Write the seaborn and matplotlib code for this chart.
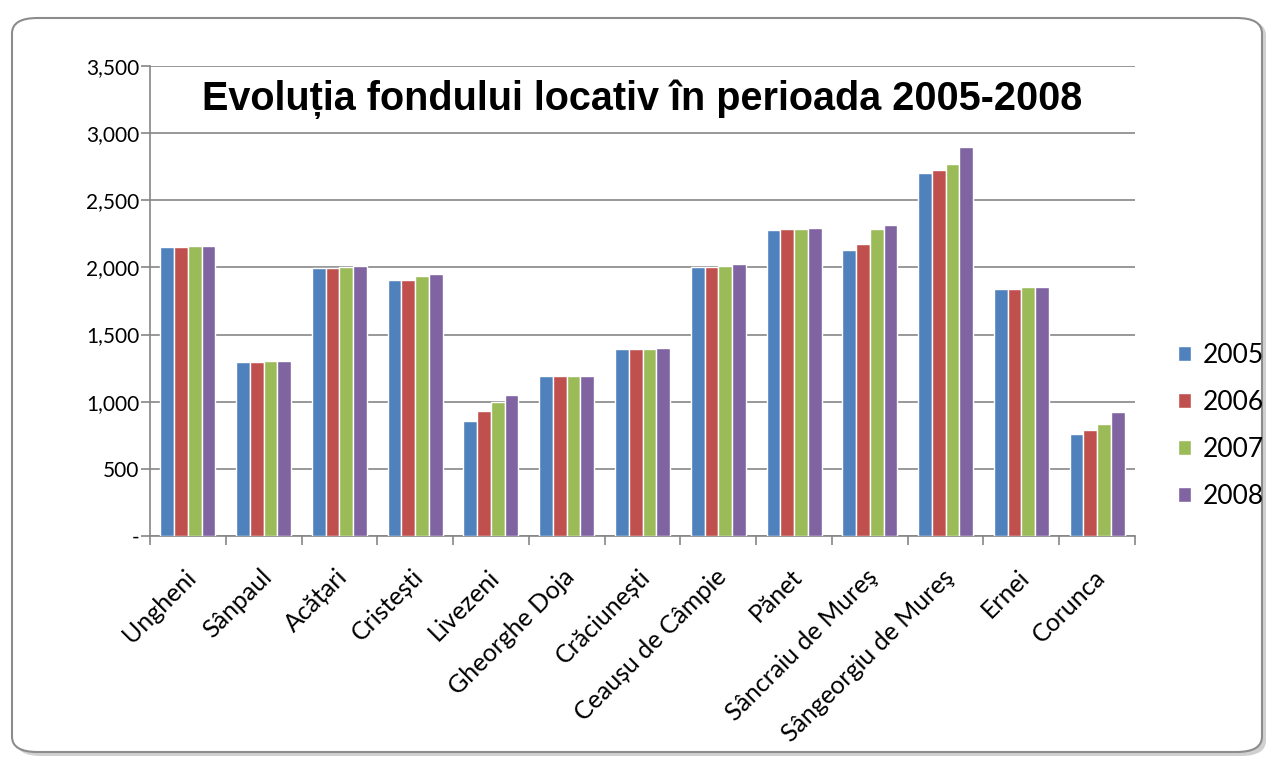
import matplotlib
matplotlib.use("Agg")
import matplotlib.pyplot as plt
import matplotlib.transforms as mtransforms
import seaborn as sns
import pandas as pd
from matplotlib.patches import FancyBboxPatch
from matplotlib.ticker import FuncFormatter, MultipleLocator

categories = ["Ungheni", "Sânpaul", "Acățari", "Cristești", "Livezeni", "Gheorghe Doja",
              "Crăciunești", "Ceaușu de Câmpie", "Pănet", "Sâncraiu de Mureş",
              "Sângeorgiu de Mureş", "Ernei", "Corunca"]
years = ["2005", "2006", "2007", "2008"]
v2005 = [2155, 1295, 1993, 1908, 853, 1190, 1390, 2003, 2281, 2132, 2704, 1841, 756]
v2006 = [2155, 1295, 1993, 1908, 928, 1190, 1390, 2003, 2289, 2177, 2726, 1841, 786]
v2007 = [2160, 1300, 2005, 1938, 1000, 1190, 1390, 2012, 2289, 2289, 2771, 1856, 831]
v2008 = [2162, 1300, 2012, 1953, 1047, 1190, 1398, 2027, 2296, 2319, 2898, 1856, 921]
title = "Evoluția fondului locativ în perioada 2005-2008"
colors = ["#4F81BD", "#C0504D", "#9BBB59", "#8064A2"]

rows = []
for yr, vals in zip(years, [v2005, v2006, v2007, v2008]):
    for c, v in zip(categories, vals):
        rows.append({"cat": c, "year": yr, "value": v})
df = pd.DataFrame(rows)

sns.set_style("white")
plt.rcParams['font.family'] = ['Lato', 'DejaVu Sans']
plt.rcParams['text.color'] = 'black'
plt.rcParams['xtick.color'] = 'black'
plt.rcParams['ytick.color'] = 'black'

fig = plt.figure(figsize=(12.74, 7.71), dpi=100)
fig.patch.set_facecolor("white")

# outer rounded border with shadow
shadow = FancyBboxPatch((16 / 1274, 1 - 756 / 771), 1250 / 1274, 736 / 771,
                        boxstyle="round,pad=0,rounding_size=0.02",
                        transform=fig.transFigure, facecolor="#d0d0d0",
                        edgecolor="none", zorder=-2)
border = FancyBboxPatch((12 / 1274, 1 - 752 / 771), 1250 / 1274, 734 / 771,
                        boxstyle="round,pad=0,rounding_size=0.02",
                        transform=fig.transFigure, facecolor="white",
                        edgecolor="#8c8c8c", linewidth=1.5, zorder=-1)
fig.patches.extend([shadow, border])

ax = fig.add_axes([150 / 1274, 1 - 536 / 771, 985 / 1274, 470 / 771])
ax.set_zorder(2)
ax.set_facecolor("none")
sns.barplot(data=df, x="cat", y="value", hue="year", palette=colors,
            width=0.725, gap=0, ax=ax, saturation=1, legend=True, zorder=3)

ax.set_ylim(0, 3500)
ax.set_xlim(-0.5, len(categories) - 0.5)
ax.yaxis.set_major_locator(MultipleLocator(500))
ax.yaxis.set_major_formatter(FuncFormatter(lambda v, p: "-" if v == 0 else f"{int(v):,}"))
ax.grid(axis="y", color="#868686", linewidth=1.2, zorder=0)
ax.set_axisbelow(True)
for s in ["top", "right"]:
    ax.spines[s].set_visible(False)
for s in ["left", "bottom"]:
    ax.spines[s].set_color("#868686")
    ax.spines[s].set_linewidth(1.2)

ax.set_xlabel("")
ax.set_ylabel("")
ax.tick_params(axis="y", which="major", left=True, length=6.5, width=1.2, color="#868686",
               labelsize=15, pad=1, labelcolor="black")
ax.set_xticks([i + 0.5 for i in range(-1, len(categories))], minor=True)
ax.tick_params(axis="x", which="minor", bottom=True, length=6.5, width=1.2, color="#868686")
ax.tick_params(axis="x", which="major", bottom=False, length=0, labelsize=18, pad=21,
               labelcolor="black")
ax.set_xticks(range(len(categories)))
ax.set_xticklabels(categories, rotation=45, ha="right", rotation_mode="anchor")
offset = mtransforms.ScaledTranslation(-4 / 100, 0, fig.dpi_scale_trans)
for lab in ax.get_xticklabels():
    lab.set_transform(lab.get_transform() + offset)

ax.text(0.5, 0.93, title, transform=ax.transAxes, ha="center", va="center",
        fontsize=28.5, fontweight="bold", family=["Liberation Sans", "DejaVu Sans"])

handles, labels = ax.get_legend_handles_labels()
ax.legend_.remove()
fig.legend(handles, labels, loc="center left", bbox_to_anchor=(1154 / 1274, 1 - 426 / 771),
           frameon=False, fontsize=19, handlelength=0.5, handleheight=0.5,
           handletextpad=0.45, labelspacing=0.84)

fig.savefig("out.png", dpi=100)
